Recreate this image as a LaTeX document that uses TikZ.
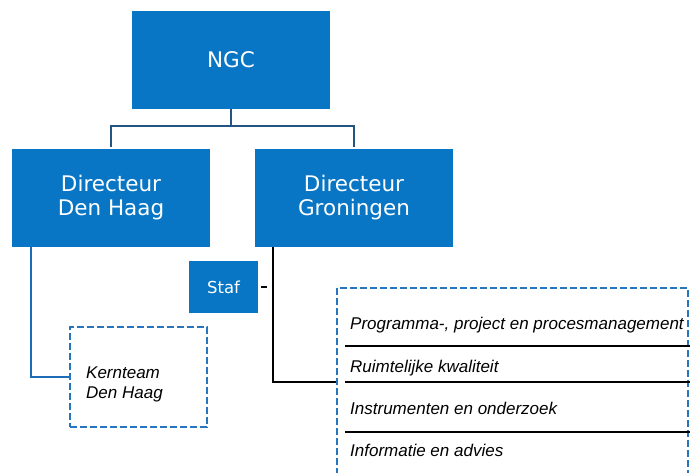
\documentclass[tikz,border=0pt]{standalone}
\usepackage{fontspec}
\setmainfont{DejaVu Sans}
\newfontfamily\itfont{Liberation Sans}
\definecolor{boxblue}{RGB}{8,118,196}
\definecolor{dashblue}{RGB}{38,117,190}
\definecolor{navyline}{RGB}{36,84,130}
\definecolor{linkblue}{RGB}{28,108,184}
\tikzset{
  bluebox/.style={rectangle, fill=boxblue, draw=none, text=white, align=center, inner sep=0pt},
  bigbox/.style={bluebox, minimum width=198pt, minimum height=98pt, font=\fontsize{21.5}{24}\selectfont},
  dashbox/.style={rectangle, draw=dashblue, line width=2.5pt, dash pattern=on 7pt off 3pt, inner sep=0pt},
  rowtext/.style={anchor=west, inner sep=0pt, font=\itfont\itshape\fontsize{17}{20}\selectfont},
  rowline/.style={black, line width=1.3pt},
}
\begin{document}
\begin{tikzpicture}[x=1pt,y=-1pt]
\useasboundingbox (0,0) rectangle (690,472);
\node[bigbox] (ngc) at (231,60) {NGC};
\node[bigbox] (dh) at (111,198) {Directeur\\Den Haag};
\node[bigbox] (gron) at (354,198) {Directeur\\Groningen};
\node[bluebox, minimum width=69pt, minimum height=52pt, font=\fontsize{16.5}{19}\selectfont] (staf) at (223.5,287) {Staf};
\node[dashbox, minimum width=137pt, minimum height=100pt] (kern) at (138.5,377) {};
\node[rowtext, align=left] (kerntxt) at (86,384) {Kernteam\\Den Haag};
\node[dashbox, minimum width=351pt, minimum height=188pt] (grp) at (512.5,382) {};
% rows
\node[rowtext] (r1) at (350,325) {Programma-, project en procesmanagement};
\node[rowtext] (r2) at (350,368) {Ruimtelijke kwaliteit};
\node[rowtext] (r3) at (350,408) {Instrumenten en onderzoek};
\node[rowtext] (r4) at (350,450) {Informatie en advies};
\coordinate (l1a) at (345,346); \coordinate (l1b) at (690,346);
\coordinate (l2a) at (345,382); \coordinate (l2b) at (690,382);
\coordinate (l3a) at (345,432); \coordinate (l3b) at (690,432);
\draw[rowline] (l1a) -- (l1b);
\draw[rowline] (l2a) -- (l2b);
\draw[rowline] (l3a) -- (l3b);
% connectors
\draw[navyline, line width=2.2pt, shorten >=2pt] (ngc.south) -- ++(0,17) -| (dh.north);
\draw[navyline, line width=2.2pt, shorten >=2pt] (ngc.south) ++(0,17) -| (gron.north);
\draw[linkblue, line width=2.2pt] (dh.south west) ++(19,0) |- (kern.west);
\draw[black, line width=2.2pt] (gron.south west) ++(18,0) |- (grp.west);
\coordinate (stafj) at (273,287);
\draw[black, line width=2.2pt, dash pattern=on 0pt off 3pt on 6pt off 20pt] (staf.east) -- (stafj);
\end{tikzpicture}
\end{document}
